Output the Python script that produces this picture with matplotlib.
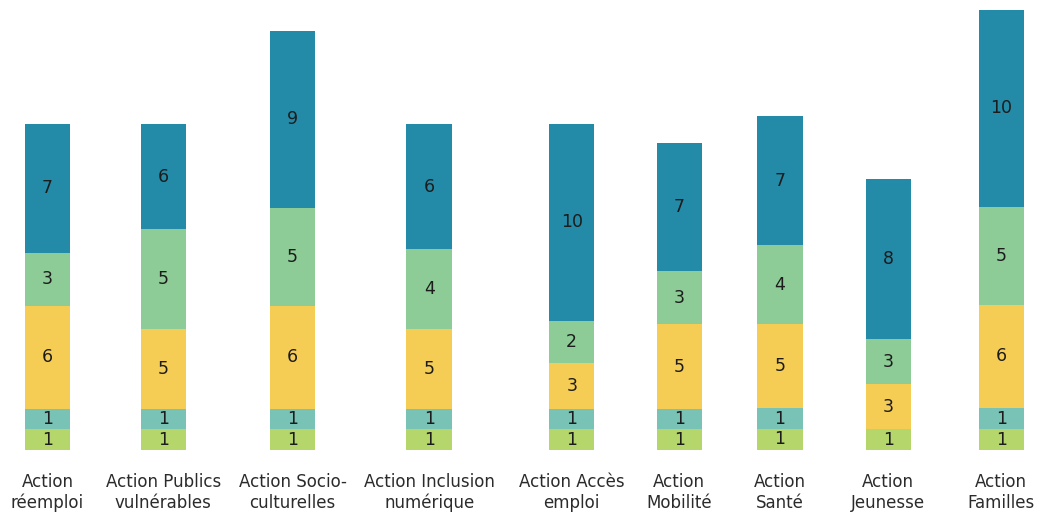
import matplotlib.pyplot as plt

# categories (two-line labels as printed under the bars)
categories = [
    ("Action", "réemploi"),
    ("Action Publics", "vulnérables"),
    ("Action Socio-", "culturelles"),
    ("Action Inclusion", "numérique"),
    ("Action Accès", "emploi"),
    ("Action", "Mobilité"),
    ("Action", "Santé"),
    ("Action", "Jeunesse"),
    ("Action", "Familles"),
]

# numbers printed in each segment (bottom to top); 0 = segment absent
lab_lightgreen = [1, 1, 1, 1, 1, 1, 1, 1, 1]
lab_teal = [1, 1, 1, 1, 1, 1, 1, 0, 1]
lab_yellow = [6, 5, 6, 5, 3, 5, 5, 3, 6]
lab_green = [3, 5, 5, 4, 2, 3, 4, 3, 5]
lab_blue = [7, 6, 9, 6, 10, 7, 7, 8, 10]

# drawn heights of the segments (not strictly proportional)
h_lightgreen = [1.03, 1.03, 1.03, 1.03, 1.03, 1.03, 1.05, 1.03, 1.03]
h_teal = [1.03, 1.03, 1.03, 1.03, 1.03, 1.03, 1.05, 0.0, 1.07]
h_yellow = [5.13, 3.97, 5.13, 3.97, 2.27, 4.22, 4.20, 2.28, 5.17]
h_green = [2.67, 5.00, 4.92, 4.00, 2.12, 2.67, 3.93, 2.22, 4.88]
h_blue = [6.45, 5.28, 8.83, 6.28, 9.87, 6.42, 6.45, 8.02, 9.87]

# layout: bar centres (pixels across the figure) and bar width
x_pos = [47.5, 163.3, 292.5, 429.2, 571.7, 679.3, 780.0, 888.3, 1001.3]
bar_w = 45.5

series = [
    (h_lightgreen, lab_lightgreen, "#b5d66a"),
    (h_teal, lab_teal, "#78c3b6"),
    (h_yellow, lab_yellow, "#f5cd55"),
    (h_green, lab_green, "#8dcc96"),
    (h_blue, lab_blue, "#238aa8"),
]

fig = plt.figure(figsize=(10.48, 5.14), dpi=100)
ax = fig.add_axes([0, 1 - 450 / 514, 1, 450 / 514])

bottoms = [0.0] * len(categories)
for heights, labels, color in series:
    ax.bar(x_pos, heights, width=bar_w, bottom=bottoms, color=color, linewidth=0)
    for i in range(len(categories)):
        if heights[i] > 0:
            ax.text(x_pos[i], bottoms[i] + heights[i] / 2, str(labels[i]),
                    ha="center", va="center", fontsize=12.5, color="#1c1c1c",
                    family="DejaVu Sans")
    bottoms = [b + h for b, h in zip(bottoms, heights)]

ax.set_xlim(0, 1048)
ax.set_ylim(0, 22.5)
ax.axis("off")

# category labels under the bars (one text per line, baselines as in the picture)
for x, (line1, line2) in zip(x_pos, categories):
    ax.text(x, -1.85, line1, ha="center", va="baseline", fontsize=12,
            color="#2b2b2b", family="DejaVu Sans", clip_on=False)
    ax.text(x, -2.92, line2, ha="center", va="baseline", fontsize=12,
            color="#2b2b2b", family="DejaVu Sans", clip_on=False)

fig.savefig("out.png", dpi=100)
